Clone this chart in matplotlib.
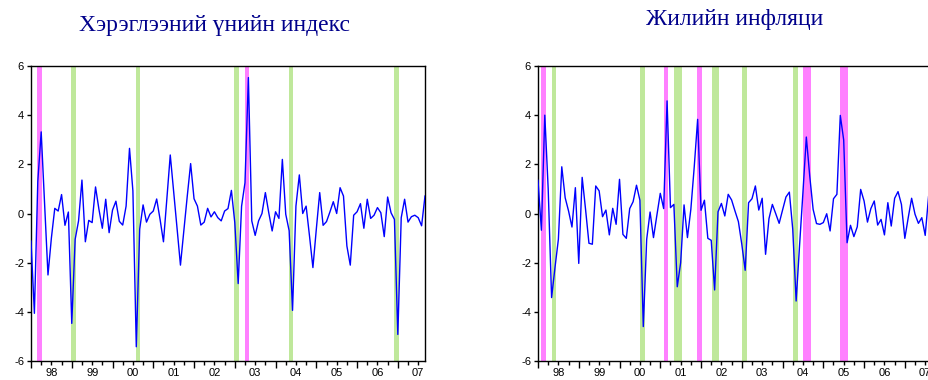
import matplotlib
matplotlib.use("Agg")
import matplotlib.pyplot as plt
import numpy as np

plt.rcParams['axes.unicode_minus'] = False
plt.rcParams['font.family'] = ['Liberation Sans', 'DejaVu Sans']

# monthly data, 1998M01 .. 2007M09
cpi_index = [
    -1.12, -4.06, 1.3, 3.32, 0.4, -2.5, -1.0, 0.21, 0.1, 0.77, -0.48, 0.06,
    -4.47, -1.05, -0.3, 1.36, -1.15, -0.28, -0.37, 1.08, 0.17, -0.6, 0.58, -0.78,
    0.14, 0.5, -0.32, -0.47, 0.3, 2.65, 0.92, -5.42, -0.64, 0.35, -0.35, -0.03,
    0.1, 0.59, -0.24, -1.15, 0.6, 2.38, 0.89, -0.6, -2.1, -0.7, 0.7, 2.03,
    0.6, 0.3, -0.47, -0.35, 0.21, -0.14, 0.07, -0.17, -0.3, 0.1, 0.2, 0.94,
    -0.37, -2.85, 0.3, 1.25, 5.53, -0.3, -0.89, -0.3, 0.0, 0.85, 0.03, -0.71,
    0.07, -0.2, 2.2, -0.03, -0.7, -3.94, 0.3, 1.57, 0.0, 0.3, -0.92, -2.2,
    -0.64, 0.85, -0.48, -0.33, 0.06, 0.48, 0.0, 1.05, 0.71, -1.32, -2.1, -0.07,
    0.07, 0.4, -0.6, 0.58, -0.2, -0.07, 0.24, 0.03, -0.94, 0.67, 0.03, -0.24,
    -4.92, -0.17, 0.58, -0.35, -0.13, -0.07, -0.17, -0.5, 0.71]

inflation = [
    1.35, -0.68, 4.0, 1.0, -3.42, -2.2, -1.05, 1.9, 0.64, 0.1, -0.55, 1.05,
    -2.03, 1.47, 0.17, -1.21, -1.25, 1.12, 0.92, -0.13, 0.14, -0.87, 0.21, -0.44,
    1.39, -0.85, -1.01, 0.2, 0.48, 1.15, 0.54, -4.6, -1.05, 0.06, -0.98, -0.07,
    0.82, 0.2, 4.58, 0.24, 0.37, -2.98, -2.0, 0.35, -0.98, 0.17, 1.9, 3.83,
    0.13, 0.54, -1.01, -1.09, -3.11, 0.07, 0.41, -0.1, 0.78, 0.55, 0.1, -0.33,
    -1.25, -2.31, 0.44, 0.6, 1.12, 0.14, 0.62, -1.66, -0.21, 0.37, -0.01, -0.4,
    0.14, 0.67, 0.87, -0.64, -3.56, -1.32, 0.85, 3.11, 1.53, 0.17, -0.41, -0.44,
    -0.37, -0.01, -0.71, 0.6, 0.78, 3.99, 2.99, -1.19, -0.48, -0.94, -0.54, 0.98,
    0.51, -0.35, 0.2, 0.51, -0.47, -0.24, -0.87, 0.44, -0.51, 0.62, 0.89, 0.37,
    -1.01, -0.17, 0.62, -0.03, -0.4, -0.17, -0.89, 0.71, 0.5]

# shaded periods (month index from 1998M01), start/end
cpi_pink = [(1.8, 3.15), (62.9, 64.2)]
cpi_green = [(11.9, 13.2), (30.8, 32.2), (59.9, 61.2), (75.9, 77.2), (107.0, 108.2)]
infl_pink = [(0.9, 2.35), (37.05, 38.4), (46.9, 48.3), (77.9, 80.4), (89.0, 91.4)]
infl_green = [(4.0, 5.3), (30.0, 31.4), (40.1, 42.3), (51.1, 53.3), (60.0, 61.4), (75.0, 76.5)]

year_labels = ['98', '99', '00', '01', '02', '03', '04', '05', '06', '07']
titles = ['Хэрэглээний үнийн индекс', 'Жилийн инфляци']

fig = plt.figure(figsize=(9.29, 3.8), dpi=100)
ax1 = fig.add_axes([31/929, 19/380, 394/929, 295/380])
ax2 = fig.add_axes([538/929, 19/380, 394/929, 295/380])

pink = '#ff80ff'
green = '#bfe89b'


def draw(ax, vals, pinks, greens):
    t = np.arange(len(vals))
    for a, b in greens:
        ax.axvspan(a, b, color=green, lw=0, zorder=1)
    for a, b in pinks:
        ax.axvspan(a, b, color=pink, lw=0, zorder=1)
    ax.plot(t, vals, color='#0000ff', lw=1.0, zorder=3)
    ax.set_xlim(0, len(vals) - 1)
    ax.set_ylim(-6, 6)
    ax.set_yticks([-6, -4, -2, 0, 2, 4, 6])
    ax.set_xticks(np.arange(0, len(vals), 12))
    ax.set_xticklabels([])
    quarters = [q for q in range(3, len(vals), 3) if q % 12 != 0]
    ax.set_xticks(quarters, minor=True)
    qlab = []
    for q in quarters:
        if q % 12 == 6:
            qlab.append(year_labels[q // 12])
        else:
            qlab.append('')
    ax.set_xticklabels(qlab, minor=True)
    ax.tick_params(axis='x', which='major', length=5, width=1, direction='out')
    ax.tick_params(axis='x', which='minor', length=3, width=1, direction='out',
                   labelsize=8, pad=2)
    ax.tick_params(axis='y', length=3, width=1, labelsize=8, pad=2)
    for s in ax.spines.values():
        s.set_linewidth(1)


draw(ax1, cpi_index, cpi_pink, cpi_green)
draw(ax2, inflation, infl_pink, infl_green)

fig.text(215/929, 1 - 26/380, titles[0], ha='center', va='center',
         fontsize=17, color='#00008b', family='Liberation Serif')
fig.text(735/929, 1 - 20/380, titles[1], ha='center', va='center',
         fontsize=17, color='#00008b', family='Liberation Serif')

fig.savefig('out.png', dpi=100)
